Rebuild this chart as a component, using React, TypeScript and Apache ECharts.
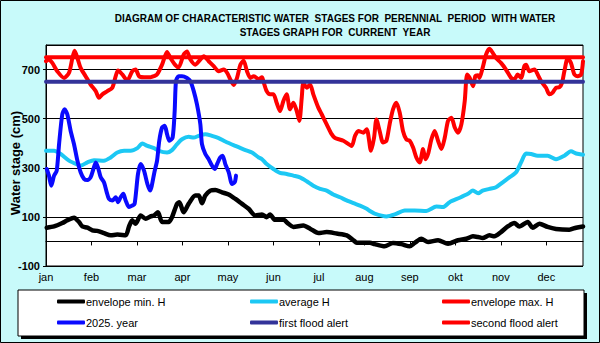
import React, { useEffect, useRef } from 'react';
import * as echarts from 'echarts';

const MONTHS = ['jan', 'feb', 'mar', 'apr', 'may', 'jun', 'jul', 'aug', 'sep', 'okt', 'nov', 'dec'];
const DAYS_PER_LABEL = 31;
const LAST_DAY = 366;

const TITLE = 'DIAGRAM OF CHARACTERISTIC WATER  STAGES FOR  PERENNIAL  PERIOD  WITH WATER\nSTAGES GRAPH FOR  CURRENT  YEAR';
const Y_NAME = 'Water stage (cm)';
const Y_MIN = -100;
const Y_MAX = 800;
const Y_STEP = 200;

const FIRST_FLOOD_ALERT = 650;
const SECOND_FLOOD_ALERT = 750;

const minDays = [0.5, 5.5, 11.1, 14.5, 19.1, 22.5, 24.8, 28.2, 31.6, 35, 39.5, 44.1, 48.6, 54.3, 56.6, 58.8, 61.1, 64.5, 67.9, 71.3, 73.6,
  76.3, 79.1, 83.6, 85.9, 89.3, 90.9, 93.8, 97.2, 101.8, 104.1, 106.3, 108.6, 112, 115.4, 120, 124.5, 129.1, 133.6, 138.1, 142.7, 147.2,
  150.4, 152.7, 156.1, 161.8, 165.2, 168.6, 175.4, 180, 185.6, 191.3, 198.1, 205, 209.5, 211.8, 220.8,
  224, 230.8, 236.5, 242.2, 247.9, 251.3, 255.8, 260.4, 267.2, 274, 280.8, 286.5, 291, 294.5,
  297.6, 302.2, 305.6, 310.1, 314.7, 319.2, 322.6, 328.3, 331.7, 336.3, 341.9, 347.6, 356.7, 361.3, 366];
const minValues = [56, 61, 75, 86, 97, 79, 61, 56, 45, 43, 34, 25, 28, 25, 61, 86, 72, 106, 92, 102, 106,
  119, 79, 79, 99, 153, 160, 119, 153, 187, 187, 156, 187, 207, 210, 200, 191, 173, 153, 133, 106, 110,
  99, 110, 88, 88, 72, 59, 65, 52, 34, 38, 32, 25, 5, -5, -5,
  -11, -20, -6, -11, -20, -6, 11, -2, 5, -9, 5, 11, 21, 18,
  14, 25, 21, 38, 61, 75, 61, 79, 56, 72, 59, 51, 48, 56, 61];

const avgDays = [0, 5.5, 10, 15.7, 21.4, 23.6, 28.2, 32.7, 39.5, 44.1, 48.6, 53.2, 57.7, 62.3, 65.7, 69.1, 73.6,
  76.8, 82.5, 85.9, 89.3, 92.7, 97.2, 100.7, 104.1, 108.6, 113.1, 117.7, 122.2, 129.1, 135.9, 140.4, 145, 147.2,
  150.4, 155, 159.5, 164, 168.6, 173.1, 177.7, 182.2, 186.8, 191.3, 195.8, 200.4, 204.9, 209.5, 214, 218.6, 220.8,
  224, 232, 237.7, 244.5, 251.3, 259.2, 266.1, 270.6, 275.1, 282, 287.6, 291, 294.5,
  297.6, 302.2, 306.7, 311.3, 315.8, 320.4, 323.8, 327.2, 330.6, 335.1, 341.9, 347.6, 353.3, 357.8, 361.3, 366];
const avgValues = [369, 369, 356, 329, 313, 309, 322, 331, 329, 342, 362, 369, 369, 380, 399, 389, 380,
  369, 362, 372, 396, 416, 426, 423, 430, 437, 430, 421, 407, 389, 372, 362, 342, 335,
  315, 295, 279, 275, 268, 261, 245, 227, 214, 207, 191, 180, 167, 156, 146, 133, 124,
  113, 102, 110, 126, 126, 124, 142, 140, 160, 178, 194, 207, 196,
  207, 214, 221, 241, 261, 282, 322, 358, 356, 349, 349, 335, 349, 367, 358, 353];

const maxDays = [0, 2, 4.3, 7.7, 12.3, 15.7, 18, 19.5, 21.4, 23.6, 27, 30.4, 33.9, 36.1, 38.4, 41.8, 45.2, 47.5, 49.1, 52, 55.4, 58.8, 61.1, 63.4, 66.8, 71.3, 73.6,
  75.7, 79.1, 82.5, 84.8, 88.2, 90.4, 93.8, 96.1, 98.4, 101.8, 105.2, 107.5, 110.9, 114.3, 117.7, 121.1, 123.4, 125.6, 127.9, 130.2, 132.5, 134.7, 137, 139.3, 141.6, 145, 147.2,
  148.1, 150.4, 152.7, 155, 157.2, 159.5, 161.8, 164, 166.3, 168.6, 170.9, 172.7, 174.3, 175.4, 177.7, 180, 182.2, 185.6, 187.9, 191.3, 194.7, 197, 202.7, 208.3, 210.6, 212.9, 216.3, 218.6, 221.5,
  223.6, 225.2, 227.4, 229.7, 232, 234.2, 236.5, 238.8, 241.1, 243.3, 245.6, 247.9, 250.2, 252.4, 254.7, 257, 258.6, 260.4, 262.7, 264.9, 267.2, 269.5, 271.8, 274, 276.3, 278.6, 280.8, 283.1, 285.4, 287, 288.8, 291.1, 292.6, 294.5,
  295.4, 297.6, 299.9, 302.2, 304.5, 306.7, 310.1, 313.5, 317, 319.2, 321.5, 323.8, 326, 327.2, 329.4, 332.9, 335.1, 337.4, 340.8, 343.1, 345.3, 347.6, 349.9, 351.7, 353.3, 355.6, 357.8, 360.1, 362.4, 364.7, 366];
const maxValues = [734, 741, 727, 693, 666, 687, 747, 777, 747, 707, 673, 639, 612, 585, 599, 612, 626, 673, 696, 680, 655, 693, 700, 673, 669, 669, 673,
  680, 720, 772, 747, 718, 709, 761, 774, 741, 720, 741, 754, 734, 714, 693, 700, 687, 660, 637, 666, 720, 736, 693, 666, 673, 660, 669,
  653, 612, 599, 599, 565, 531, 572, 599, 538, 565, 531, 491, 585, 646, 626, 639, 599, 545, 518, 477, 437, 421, 410, 389, 430, 450, 443, 457, 369,
  423, 497, 450, 403, 410, 477, 538, 565, 524, 450, 416, 410, 383, 342, 322, 376, 335, 356, 416, 450, 410, 376, 423, 491, 504, 464, 443, 477, 572, 680, 666, 632, 673, 677,
  666, 707, 761, 785, 768, 747, 727, 700, 666, 660, 680, 666, 714, 720, 693, 700, 680, 653, 626, 599, 606, 626, 628, 646, 693, 747, 727, 680, 673, 680, 734];

const yearDays = [0.5, 2, 3.6, 5.5, 7.3, 8.9, 11.1, 12.7, 14.5, 16.8, 19.1, 21.4, 23.6, 25.9, 28.2, 30.4, 32.3, 33.9, 35.4, 37.3,
  39.5, 41.4, 42.9, 45.2, 47.5, 49.1, 50.9, 52.7, 54.3, 56.6, 58.8, 60.4, 62.7, 64.5, 66.8, 69.1, 70.9,
  74.1, 75.7, 77.2, 79.1, 80.9, 82.5, 84.1, 86.3, 87.7, 88.6, 90.4, 92.7, 96.1, 98.4, 100.7, 102.9, 105.2, 106.3, 108.6, 110.9,
  113.1, 115, 116.6, 118.8, 120.4, 122.2, 124.5, 126.8, 128.6, 129.5];
const yearValues = [295, 268, 227, 268, 288, 396, 518, 538, 518, 450, 396, 329, 282, 255, 250, 261, 295, 322, 302, 261,
  241, 200, 173, 167, 180, 160, 180, 194, 167, 140, 146, 153, 275, 315, 288, 234, 207,
  288, 329, 410, 464, 471, 437, 410, 423, 531, 653, 673, 673, 666, 653, 612, 558, 477, 396, 356, 335,
  309, 295, 315, 342, 349, 315, 282, 234, 241, 268];

const zip = (xs: number[], ys: number[]) => xs.map((x, i) => [x, ys[i]]);

const FONT = 'Liberation Sans, Arial, sans-serif';

export default function App() {
  const ref = useRef<HTMLDivElement>(null);
  useEffect(() => {
    const chart = echarts.init(ref.current!, null, { renderer: 'svg' });
    const line = (name: string, data: number[][], color: string, width = 4, smooth: number | boolean = 0.25) => ({
      name,
      type: 'line',
      data,
      showSymbol: false,
      symbol: 'none',
      smooth,
      itemStyle: { color },
      lineStyle: { color, width, cap: 'round', join: 'round' },
    });
    const flat = (v: number) => [[0, v], [LAST_DAY, v]];
    const legendBase = {
      orient: 'vertical',
      itemWidth: 28,
      itemHeight: 4,
      icon: 'roundRect',
      itemGap: 10,
      selectedMode: false,
      textStyle: { fontFamily: FONT, fontSize: 11, color: '#000', padding: [0, 0, 0, -4] },
    };
    chart.setOption({
      animation: false,
      backgroundColor: '#c8fafa',
      graphic: [
        { type: 'rect', shape: { x: 0.5, y: 0.5, width: 599, height: 342 }, style: { fill: 'none', stroke: '#000', lineWidth: 1 }, z: -1 },
        { type: 'rect', shape: { x: 21, y: 293, width: 566, height: 46 }, style: { fill: '#000' }, z: -1 },
        { type: 'rect', shape: { x: 18, y: 290, width: 566, height: 46 }, style: { fill: '#fff', stroke: '#000', lineWidth: 1 }, z: -1 },
        {
          type: 'text', x: 335, y: 11,
          style: { text: TITLE, textAlign: 'center', font: `bold 10px ${FONT}`, lineHeight: 14, fill: '#000' },
        },
        {
          type: 'text', x: 15, y: 163, rotation: Math.PI / 2,
          style: { text: Y_NAME, textAlign: 'center', textVerticalAlign: 'middle', font: `bold 13px ${FONT}`, fill: '#000' },
        },
      ],
      legend: [
        { ...legendBase, left: 52, top: 291, data: ['envelope min. H', '2025. year'] },
        { ...legendBase, left: 245, top: 291, data: ['average H', 'first flood alert'] },
        { ...legendBase, left: 437, top: 291, data: ['envelope max. H', 'second flood alert'] },
      ],
      grid: {
        left: 46, top: 45, right: 17, bottom: 77,
        show: true, backgroundColor: '#fff', borderColor: '#000', borderWidth: 1,
      },
      xAxis: {
        type: 'value',
        min: 0,
        max: LAST_DAY,
        interval: DAYS_PER_LABEL,
        axisLine: { lineStyle: { color: '#000', width: 1 } },
        axisTick: { show: true, length: 4, lineStyle: { color: '#000' } },
        splitLine: { show: false },
        axisLabel: {
          showMaxLabel: false,
          margin: 5,
          fontFamily: FONT, fontSize: 11, color: '#000',
          formatter: (v: number) => MONTHS[Math.round(v / DAYS_PER_LABEL)] ?? '',
        },
      },
      yAxis: {
        type: 'value',
        min: Y_MIN,
        max: Y_MAX,
        interval: Y_STEP,
        axisLine: { show: true, lineStyle: { color: '#000', width: 1 } },
        axisTick: { show: true, length: 3, lineStyle: { color: '#000' } },
        splitLine: { show: true, lineStyle: { color: '#000', width: 1 } },
        axisLabel: {
          showMaxLabel: false,
          margin: 6,
          fontFamily: FONT, fontSize: 11, fontWeight: 'bold', color: '#000',
        },
      },
      series: [
        line('envelope min. H', zip(minDays, minValues), '#000000', 4.5),
        line('average H', zip(avgDays, avgValues), '#1cc8f4'),
        line('envelope max. H', zip(maxDays, maxValues), '#ff0000'),
        line('2025. year', zip(yearDays, yearValues), '#0a0aff'),
        line('first flood alert', flat(FIRST_FLOOD_ALERT), '#333399', 4, false),
        line('second flood alert', flat(SECOND_FLOOD_ALERT), '#ff0000', 4, false),
      ],
    });
    return () => chart.dispose();
  }, []);
  return <div ref={ref} style={{ position: 'fixed', left: 0, top: 0, width: 600, height: 343 }} />;
}
